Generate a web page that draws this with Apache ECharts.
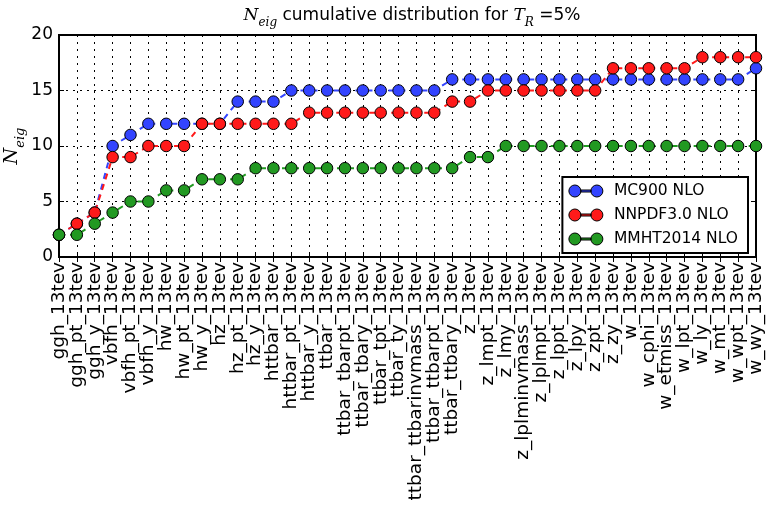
<!DOCTYPE html>
<html>
<head>
<meta charset="utf-8">
<script src="https://cdn.jsdelivr.net/npm/echarts@6/dist/echarts.min.js"></script>
<style>
html,body{margin:0;padding:0;background:#fff;}
#c{width:767px;height:506px;}
</style>
</head>
<body>
<div id="c"></div>
<script>
var categories = ["ggh_13tev","ggh_pt_13tev","ggh_y_13tev","vbfh_13tev","vbfh_pt_13tev","vbfh_y_13tev","hw_13tev","hw_pt_13tev","hw_y_13tev","hz_13tev","hz_pt_13tev","hz_y_13tev","httbar_13tev","httbar_pt_13tev","httbar_y_13tev","ttbar_13tev","ttbar_tbarpt_13tev","ttbar_tbary_13tev","ttbar_tpt_13tev","ttbar_ty_13tev","ttbar_ttbarinvmass_13tev","ttbar_ttbarpt_13tev","ttbar_ttbary_13tev","z_13tev","z_lmpt_13tev","z_lmy_13tev","z_lplminvmass_13tev","z_lplmpt_13tev","z_lppt_13tev","z_lpy_13tev","z_zpt_13tev","z_zy_13tev","w_13tev","w_cphi_13tev","w_etmiss_13tev","w_lpt_13tev","w_ly_13tev","w_mt_13tev","w_wpt_13tev","w_wy_13tev"];
var mc900 = [2,3,4,10,11,12,12,12,12,12,14,14,14,15,15,15,15,15,15,15,15,15,16,16,16,16,16,16,16,16,16,16,16,16,16,16,16,16,16,17];
var nnpdf = [2,3,4,9,9,10,10,10,12,12,12,12,12,12,13,13,13,13,13,13,13,13,14,14,15,15,15,15,15,15,15,17,17,17,17,17,18,18,18,18];
var mmht = [2,2,3,4,5,5,6,6,7,7,7,8,8,8,8,8,8,8,8,8,8,8,8,9,9,10,10,10,10,10,10,10,10,10,10,10,10,10,10,10];
var seriesNames = ["MC900 NLO","NNPDF3.0 NLO","MMHT2014 NLO"];
var yTicks = [0,5,10,15,20];

var colors = ["#3344ff","#ff1a1a","#229922"];
var FONT = "DejaVu Sans";
var mathRich = {
  n:{fontFamily:"DejaVu Serif",fontStyle:"italic",fontWeight:"normal",fontSize:17,color:"#000",lineHeight:22,verticalAlign:"top"},
  s:{fontFamily:"DejaVu Serif",fontStyle:"italic",fontWeight:"normal",fontSize:12,color:"#000",lineHeight:22,verticalAlign:"bottom",padding:[6,0,0,0]},
  t:{fontFamily:FONT,fontWeight:"normal",fontSize:17,color:"#000",lineHeight:22,verticalAlign:"top"}
};
var axisRich = {
  n:{fontFamily:"DejaVu Serif",fontStyle:"italic",fontWeight:"normal",fontSize:19,color:"#000",lineHeight:24,verticalAlign:"top"},
  s:{fontFamily:"DejaVu Serif",fontStyle:"italic",fontWeight:"normal",fontSize:13,color:"#000",lineHeight:24,verticalAlign:"bottom",padding:[7,0,0,0]}
};
var legendIcon = "path://M0,6a6,6 0 1,0 12,0a6,6 0 1,0 -12,0zM12,5h10v2h-10zM22,6a6,6 0 1,0 12,0a6,6 0 1,0 -12,0z";

var chart = echarts.init(document.getElementById('c'), null, {renderer:'canvas'});
var dataSeries = [mc900, nnpdf, mmht];
var series = dataSeries.map(function(d,i){
  return {
    name: seriesNames[i],
    type: 'line',
    data: d,
    symbol: 'circle',
    symbolSize: 11.5,
    color: colors[i],
    itemStyle: {color: colors[i], borderColor:'#000', borderWidth:1},
    lineStyle: {color: colors[i], width: 2, type:[6,5]},
    animation: false,
    z: 3+i
  };
});

chart.setOption({
  animation:false,
  backgroundColor:'#fff',
  textStyle:{fontFamily:FONT},
  title:{
    text:'{n|N}{s|eig}{t| cumulative distribution for }{n|T}{s|R}{t| =5%}',
    left:'407', top:2, textAlign:'center',
    textStyle:{fontWeight:'normal',rich:mathRich}
  },
  legend:{
    orient:'vertical', right:19, top:177,
    backgroundColor:'#fff', borderColor:'#000', borderWidth:2,
    padding:[6,10,6,6], itemGap:8, itemWidth:34, itemHeight:12,
    icon: legendIcon,
    itemStyle:{borderColor:'#000',borderWidth:1},
    textStyle:{fontFamily:FONT,fontSize:15.5,color:'#000',padding:[0,0,0,6]},
    data: seriesNames
  },
  grid:{left:59,right:11,top:35,bottom:249,outerBoundsMode:'none',containLabel:false,show:true,borderColor:'#000',borderWidth:2,backgroundColor:'transparent'},
  xAxis:[{
    type:'category', data:categories, boundaryGap:false,
    axisLine:{lineStyle:{color:'#000',width:2}},
    axisTick:{show:true,inside:true,length:5,interval:0,lineStyle:{color:'#000'}},
    axisLabel:{rotate:90,interval:0,fontSize:18.5,color:'#000',fontFamily:FONT,margin:5},
    splitLine:{show:true,interval:0,lineStyle:{color:'#000',type:[2,5],width:1}}
  },{
    type:'category', data:categories, boundaryGap:false, position:'top',
    axisLine:{show:false},
    axisTick:{show:true,inside:true,length:5,interval:0,lineStyle:{color:'#000'}},
    axisLabel:{show:false}, splitLine:{show:false}
  }],
  yAxis:[{
    type:'value', min:yTicks[0], max:yTicks[yTicks.length-1], interval:5,
    name:'{n|N}{s|eig}', nameLocation:'middle', nameRotate:90, nameGap:32, nameMoveOverlap:false,
    nameTextStyle:{rich:axisRich},
    axisLine:{show:true,lineStyle:{color:'#000',width:2}},
    axisTick:{show:true,inside:true,length:5,lineStyle:{color:'#000'}},
    axisLabel:{fontSize:17,color:'#000',fontFamily:FONT,margin:6},
    splitLine:{show:true,lineStyle:{color:'#000',type:[2,5],width:1}}
  },{
    type:'value', min:yTicks[0], max:yTicks[yTicks.length-1], interval:5, position:'right',
    axisLine:{show:false},
    axisTick:{show:true,inside:true,length:5,lineStyle:{color:'#000'}},
    axisLabel:{show:false}, splitLine:{show:false}
  }],
  series: series
});
</script>
</body>
</html>
